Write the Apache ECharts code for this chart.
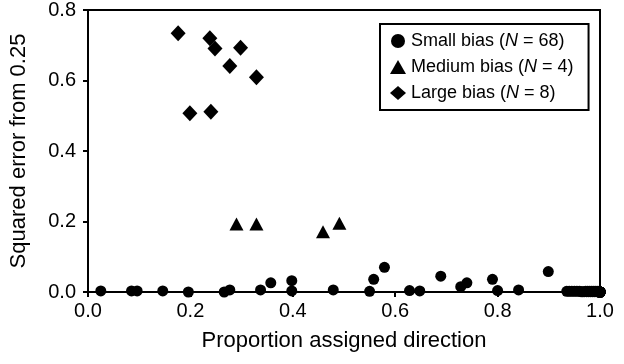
<!DOCTYPE html>
<html>
<head>
<meta charset="utf-8">
<script src="https://cdn.jsdelivr.net/npm/echarts@6/dist/echarts.min.js"></script>
<style>
  html, body { margin: 0; padding: 0; background: #fff; }
  #chart { width: 624px; height: 364px; }
</style>
</head>
<body>
<div id="chart"></div>
<script>
// small bias: [proportion, squared error]
const smallBias = [
  [0.025, 0.003], [0.085, 0.003], [0.096, 0.003], [0.146, 0.003], [0.196, 0.0],
  [0.266, 0.0], [0.277, 0.006], [0.337, 0.006], [0.357, 0.026], [0.398, 0.032],
  [0.398, 0.003], [0.479, 0.006], [0.550, 0.002], [0.558, 0.036], [0.579, 0.070],
  [0.628, 0.004], [0.648, 0.003], [0.689, 0.045], [0.728, 0.015], [0.740, 0.026],
  [0.790, 0.036], [0.800, 0.004], [0.841, 0.006], [0.899, 0.058],
  [0.935, 0.002], [0.940, 0.002], [0.945, 0.002], [0.950, 0.002], [0.955, 0.002],
  [0.960, 0.002], [0.963, 0.001], [0.966, 0.001], [0.969, 0.001], [0.972, 0.002],
  [0.974, 0.001], [0.976, 0.002], [0.978, 0.001], [0.980, 0.002], [0.982, 0.001],
  [0.984, 0.002], [0.986, 0.001], [0.988, 0.002], [0.990, 0.001], [0.992, 0.002],
  [0.994, 0.001], [0.996, 0.002], [0.998, 0.001], [1.000, 0.0],
  [1.000, 0.0], [1.000, 0.0], [1.000, 0.0], [1.000, 0.0], [1.000, 0.0],
  [1.000, 0.0], [1.000, 0.0], [1.000, 0.0], [1.000, 0.0], [1.000, 0.0],
  [1.000, 0.0], [1.000, 0.0], [1.000, 0.0], [1.000, 0.0], [1.000, 0.0],
  [1.000, 0.0], [1.000, 0.0], [1.000, 0.0], [1.000, 0.0], [1.000, 0.0]
];
const mediumBias = [[0.290, 0.193], [0.329, 0.193], [0.459, 0.171], [0.491, 0.195]];
const largeBias = [
  [0.176, 0.734], [0.238, 0.720], [0.248, 0.691], [0.298, 0.693],
  [0.277, 0.641], [0.329, 0.609], [0.199, 0.507], [0.240, 0.511]
];
const seriesNames = ['Small bias', 'Medium bias', 'Large bias'];
const seriesCounts = [68, 4, 8];

const FONT = '"Liberation Sans", Arial, sans-serif';
const INK = '#000';

const chart = echarts.init(document.getElementById('chart'));
chart.setOption({
  animation: false,
  textStyle: { fontFamily: FONT, color: INK },
  grid: {
    left: 86, right: 24, top: 10, bottom: 72,
    show: true, borderColor: INK, borderWidth: 2
  },
  legend: {
    orient: 'vertical',
    left: 380, top: 24,
    padding: [8, 15, 8, 10],
    itemGap: 8,
    itemWidth: 16, itemHeight: 14,
    borderColor: INK, borderWidth: 2,
    backgroundColor: '#fff',
    data: seriesNames,
    formatter: function (name) {
      const n = seriesCounts[seriesNames.indexOf(name)];
      return '{a|' + name + ' (}{i|N}{a| = ' + n + ')}';
    },
    textStyle: {
      fontFamily: FONT, color: INK, fontSize: 18,
      rich: {
        a: { fontFamily: FONT, color: INK, fontSize: 18 },
        i: { fontFamily: FONT, color: INK, fontSize: 18, fontStyle: 'italic' }
      }
    }
  },
  xAxis: {
    type: 'value', min: 0, max: 1, interval: 0.2,
    name: 'Proportion assigned direction',
    nameLocation: 'middle', nameGap: 38,
    nameTextStyle: { fontSize: 22, color: INK, fontFamily: FONT },
    axisLine: { show: true, onZero: false, lineStyle: { color: INK, width: 2 } },
    axisTick: { show: true, length: 5, lineStyle: { color: INK, width: 2 } },
    axisLabel: { fontSize: 20, color: INK, margin: 9, formatter: v => v.toFixed(1) },
    splitLine: { show: false }
  },
  yAxis: {
    type: 'value', min: 0, max: 0.8, interval: 0.2,
    name: 'Squared error from 0.25',
    nameLocation: 'middle', nameGap: 58, nameRotate: 90,
    nameTextStyle: { fontSize: 22, color: INK, fontFamily: FONT },
    axisLine: { show: true, onZero: false, lineStyle: { color: INK, width: 2 } },
    axisTick: { show: true, length: 5, lineStyle: { color: INK, width: 2 } },
    axisLabel: { fontSize: 20, color: INK, margin: 12, formatter: v => v.toFixed(1) },
    splitLine: { show: false }
  },
  series: [
    {
      name: seriesNames[0], type: 'scatter', data: smallBias,
      symbol: 'circle', symbolSize: 11, clip: false,
      itemStyle: { color: INK, opacity: 1 }
    },
    {
      name: seriesNames[1], type: 'scatter', data: mediumBias,
      symbol: 'triangle', symbolSize: [14, 13], clip: false,
      itemStyle: { color: INK, opacity: 1 }
    },
    {
      name: seriesNames[2], type: 'scatter', data: largeBias,
      symbol: 'diamond', symbolSize: [15, 16], clip: false,
      itemStyle: { color: INK, opacity: 1 }
    }
  ]
});
</script>
</body>
</html>
